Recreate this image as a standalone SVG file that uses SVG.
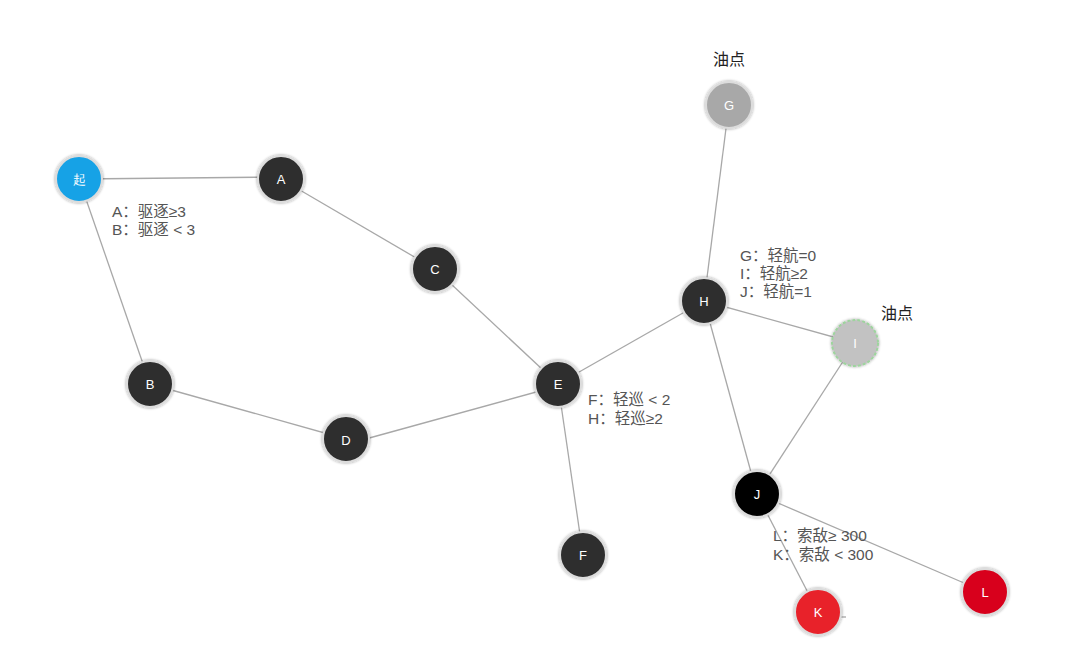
<svg xmlns="http://www.w3.org/2000/svg" width="1080" height="665" viewBox="0 0 1080 665">
<defs>
<filter id="sh" x="-30%" y="-30%" width="160%" height="160%">
<feGaussianBlur in="SourceAlpha" stdDeviation="1.5"/>
<feComponentTransfer><feFuncA type="linear" slope="0.4"/></feComponentTransfer>
<feMerge><feMergeNode/><feMergeNode in="SourceGraphic"/></feMerge>
</filter>
</defs>
<style>
.n circle{stroke:#dcdcdc;stroke-width:2;filter:url(#sh)}
.n text{font-family:"Liberation Sans",Arial,sans-serif;font-size:13px;fill:#fff;text-anchor:middle;dominant-baseline:central}
.e line{stroke:#a8a8a8;stroke-width:1.3}
.lb{font-family:"Liberation Sans","Noto Sans CJK SC",sans-serif;font-size:15.5px;fill:#555}
.oil{font-family:"Liberation Sans","Noto Sans CJK SC",sans-serif;font-size:16px;fill:#222}
</style>
<rect width="1080" height="665" fill="#fff"/>
<g id="connectors" class="e">
<line x1="79" y1="179" x2="281" y2="177"/>
<line x1="79" y1="179" x2="150" y2="384"/>
<line x1="281" y1="179" x2="435" y2="269"/>
<line x1="435" y1="269" x2="558" y2="384"/>
<line x1="150" y1="384" x2="346" y2="439"/>
<line x1="362" y1="440" x2="558" y2="386"/>
<line x1="558" y1="384" x2="704" y2="301"/>
<line x1="558" y1="384" x2="583" y2="555"/>
<line x1="704" y1="301" x2="729" y2="105"/>
<line x1="704" y1="301" x2="855" y2="343"/>
<line x1="704" y1="301" x2="757" y2="494"/>
<line x1="855" y1="343" x2="757" y2="494"/>
<line x1="757" y1="494" x2="985" y2="592"/>
<line x1="757" y1="494" x2="818" y2="612"/>
<line x1="836" y1="617" x2="846" y2="617"/>
</g>
<g id="node-start" class="n"><circle cx="79" cy="179" r="23" fill="#18a2e6"/><text x="79" y="179" font-family="Noto Sans CJK SC">起</text></g>
<g id="node-A" class="n"><circle cx="281" cy="179" r="23" fill="#2e2e2e"/><text x="281" y="179">A</text></g>
<g id="node-C" class="n"><circle cx="435" cy="269" r="23" fill="#2e2e2e"/><text x="435" y="269">C</text></g>
<g id="node-B" class="n"><circle cx="150" cy="384" r="23" fill="#2e2e2e"/><text x="150" y="384">B</text></g>
<g id="node-D" class="n"><circle cx="346" cy="439" r="23" fill="#2e2e2e"/><text x="346" y="440">D</text></g>
<g id="node-E" class="n"><circle cx="558" cy="384" r="23" fill="#2e2e2e"/><text x="558" y="384">E</text></g>
<g id="node-F" class="n"><circle cx="583" cy="555" r="23" fill="#2e2e2e"/><text x="583" y="555">F</text></g>
<g id="node-H" class="n"><circle cx="704" cy="301" r="23" fill="#2e2e2e"/><text x="704" y="301">H</text></g>
<g id="node-G" class="n"><circle cx="729" cy="105" r="23" fill="#a8a8a8"/><text x="729" y="105">G</text></g>
<g id="node-I" class="n"><circle cx="855" cy="343" r="23" fill="#c2c2c2" style="stroke:#9ed49e;stroke-dasharray:3 2"/><text x="855" y="343">I</text></g>
<g id="node-J" class="n"><circle cx="757" cy="494" r="23" fill="#000"/><text x="757" y="494">J</text></g>
<g id="node-K" class="n"><circle cx="818" cy="612" r="23" fill="#e8202a"/><text x="818" y="612">K</text></g>
<g id="node-L" class="n"><circle cx="985" cy="592" r="23" fill="#d8001b"/><text x="985" y="592">L</text></g>
<g id="labels">
<text class="lb" x="112" y="217">A：驱逐≥3</text>
<text class="lb" x="112" y="235">B：驱逐 &lt; 3</text>
<text class="oil" x="729" y="65" text-anchor="middle">油点</text>
<text class="lb" x="740" y="261">G：轻航=0</text>
<text class="lb" x="740" y="279">I：轻航≥2</text>
<text class="lb" x="740" y="297">J：轻航=1</text>
<text class="oil" x="897" y="319" text-anchor="middle">油点</text>
<text class="lb" x="588" y="405">F：轻巡 &lt; 2</text>
<text class="lb" x="588" y="424">H：轻巡≥2</text>
<text class="lb" x="773" y="541">L：索敌≥ 300</text>
<text class="lb" x="773" y="560">K：索敌 &lt; 300</text>
</g>
</svg>
